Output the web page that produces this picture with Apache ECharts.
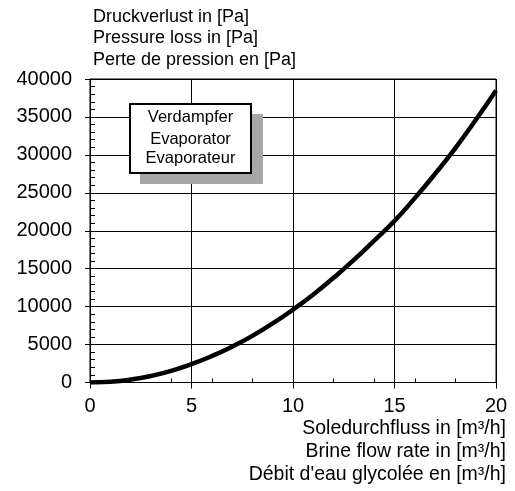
<!DOCTYPE html>
<html>
<head>
<meta charset="utf-8">
<script src="https://cdn.jsdelivr.net/npm/echarts@6/dist/echarts.min.js"></script>
<style>html,body{margin:0;padding:0;background:#fff}#c{width:515px;height:491px}</style>
</head>
<body>
<div id="c"></div>
<script>
// Data
const flowRates = [0,1,2,3,4,5,6,7,8,9,10,11,12,13,14,15,16,17,18,19,20];
const pressureLoss = [0,95,385,865,1540,2420,3480,4720,6150,7780,9600,11600,13800,16150,18700,21300,24300,27500,30900,34600,38500];
const yTitleLines = ['Druckverlust in [Pa]','Pressure loss in [Pa]','Perte de pression en [Pa]'];
const xTitleLines = ['Soledurchfluss in [m³/h]','Brine flow rate in [m³/h]',"Débit d'eau glycolée en [m³/h]"];
const boxLines = ['Verdampfer','Evaporator','Evaporateur'];

const FONT = 'Liberation Sans, Arial, sans-serif';
const chart = echarts.init(document.getElementById('c'), null, {renderer:'canvas'});

const graphics = [];
const titleY = [17, 38.5, 60];
yTitleLines.forEach((t,i)=>graphics.push({type:'text', x:93, y:titleY[i], style:{text:t, font:'18px '+FONT, fill:'#000', textVerticalAlign:'middle'}}));
const xnY = [428.5, 451.5, 474.5];
xTitleLines.forEach((t,i)=>graphics.push({type:'text', x:506, y:xnY[i], style:{text:t, font:'19.5px '+FONT, fill:'#000', textAlign:'right', textVerticalAlign:'middle'}}));
graphics.push({type:'rect', shape:{x:140, y:114, width:123, height:70}, style:{fill:'#a9a6a3'}, z:10});
graphics.push({type:'rect', shape:{x:130, y:104, width:121, height:69}, style:{fill:'#fff', stroke:'#000', lineWidth:2}, z:11});
const boxY = [117.5, 139, 158];
boxLines.forEach((t,i)=>graphics.push({type:'text', x:190.5, y:boxY[i], z:12, style:{text:t, font:'16.5px '+FONT, fill:'#000', textAlign:'center', textVerticalAlign:'middle'}}));

chart.setOption({
  animation:false,
  grid:{left:90, right:19, top:79, bottom:108.5, show:true, borderColor:'#000', borderWidth:1},
  xAxis:[{
    type:'value', min:0, max:20, interval:5,
    axisLine:{show:true, lineStyle:{color:'#000', width:1}},
    axisTick:{show:true, inside:false, length:6, lineStyle:{color:'#000'}},
    axisLabel:{margin:14, fontSize:20, color:'#000', fontFamily:FONT, formatter:v=>String(v)},
    splitLine:{show:true, lineStyle:{color:'#000', width:1}}
  },{
    type:'value', min:0, max:20, interval:2, position:'bottom', offset:0,
    axisLine:{show:false},
    axisTick:{show:true, inside:true, length:4, lineStyle:{color:'#000'}},
    axisLabel:{show:false}, splitLine:{show:false}
  }],
  yAxis:[{
    type:'value', min:0, max:40000, interval:5000,
    axisLine:{show:true, lineStyle:{color:'#000', width:1}},
    axisTick:{show:true, inside:false, length:5, lineStyle:{color:'#000'}},
    axisLabel:{margin:18, fontSize:20, color:'#000', fontFamily:FONT, formatter:v=>String(v)},
    splitLine:{show:true, lineStyle:{color:'#000', width:1}}
  },{
    type:'value', min:0, max:40000, interval:1000, position:'left', offset:0,
    axisLine:{show:false},
    axisTick:{show:true, inside:true, length:5, lineStyle:{color:'#000'}},
    axisLabel:{show:false}, splitLine:{show:false}
  }],
  series:[{
    type:'line', xAxisIndex:0, yAxisIndex:0, smooth:true, symbol:'none',
    data: flowRates.map((x,i)=>[x, pressureLoss[i]]),
    lineStyle:{color:'#000', width:4.5}
  }],
  graphic: graphics
});
</script>
</body>
</html>
